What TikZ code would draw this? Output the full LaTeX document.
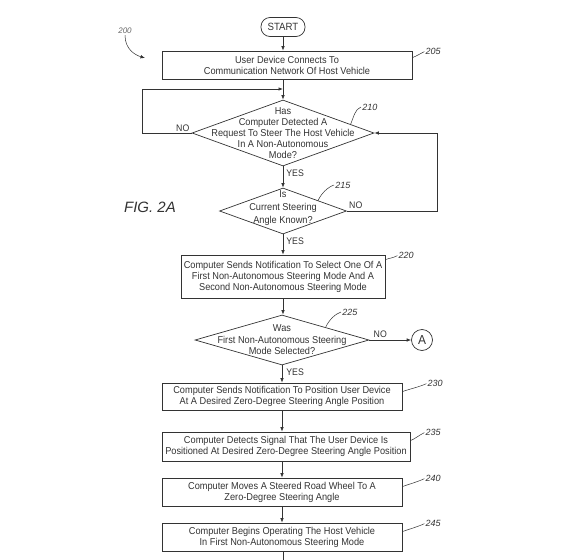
\documentclass[tikz,border=0pt]{standalone}
\usepackage{fontspec}
\setmainfont{Liberation Sans}[FakeStretch=0.92]
\newfontfamily\figfont{Liberation Sans}
\usetikzlibrary{shapes,arrows,positioning,calc,arrows.meta}

\begin{document}
\begin{tikzpicture}[x=1pt, y=1pt,
    color=black!80, line width=0.7pt,
    stepbox/.style={draw, rectangle, minimum height=28pt, inner sep=1pt, align=center, font=\fontsize{10}{11}\selectfont},
    decision/.style={draw, diamond, inner sep=0pt},
    dtext/.style={align=center, inner sep=0pt, font=\fontsize{10}{11}\selectfont},
    term/.style={draw, rectangle, rounded corners=9pt, minimum width=44pt, minimum height=19pt, font=\fontsize{10.5}{12}\selectfont},
    conn/.style={draw, circle, minimum size=21pt, inner sep=0pt, font=\fontsize{13}{14}\selectfont},
    flow/.style={-{Latex[length=4.5pt,width=3.5pt]}},
    lead/.style={line width=0.5pt},
    refnum/.style={anchor=west, inner sep=1pt, font=\figfont\itshape\fontsize{9}{10}\selectfont},
    yesno/.style={inner sep=1pt, font=\fontsize{9.5}{11}\selectfont}
]
    \useasboundingbox (0,0) rectangle (566,-560);

    % Steps
    \node [term] (start) at (283,-27) {START};
    \node [stepbox, minimum width=250pt] (b205) at (287,-65) {User Device Connects To\\Communication Network Of Host Vehicle};
    \node [decision, minimum width=182pt, minimum height=66pt] (d210) at (283,-133) {};
    \node [dtext] (t210) at (d210) {Has\\Computer Detected A\\Request To Steer The Host Vehicle\\In A Non-Autonomous\\Mode?};
    \node [decision, minimum width=127pt, minimum height=46pt] (d215) at (283,-211) {};
    \node [dtext, font=\fontsize{10}{13}\selectfont] (t215) at ([yshift=3pt]d215) {Is\\Current Steering\\Angle Known?};
    \node [stepbox, minimum width=204pt, minimum height=43pt] (b220) at (283,-276.5) {Computer Sends Notification To Select One Of A\\First Non-Autonomous Steering Mode And A\\Second Non-Autonomous Steering Mode};
    \node [decision, minimum width=174pt, minimum height=50pt] (d225) at (282,-340) {};
    \node [dtext, font=\fontsize{10}{11.5}\selectfont] (t225) at (d225) {Was\\First Non-Autonomous Steering\\Mode Selected?};
    \node [conn] (cA) at (422,-340) {A};
    \node [stepbox, minimum width=240pt, minimum height=27pt] (b230) at (282,-396.5) {Computer Sends Notification To Position User Device\\At A Desired Zero-Degree Steering Angle Position};
    \node [stepbox, minimum width=248pt, minimum height=29pt] (b235) at (286,-446.5) {Computer Detects Signal That The User Device Is\\Positioned At Desired Zero-Degree Steering Angle Position};
    \node [stepbox, minimum width=240pt] (b240) at (282,-492) {Computer Moves A Steered Road Wheel To A\\Zero-Degree Steering Angle};
    \node [stepbox, minimum width=240pt] (b245) at (282,-537) {Computer Begins Operating The Host Vehicle\\In First Non-Autonomous Steering Mode};

    \node [font=\figfont\itshape\fontsize{15}{18}\selectfont] (fig) at (150,-207) {FIG. 2A};

    % Connectors
    \draw [flow] (start.south) -- (start.south |- b205.north);
    \draw [flow] (d210.north |- b205.south) -- (d210.north);
    \draw [flow] (d210.south) -- (d215.north);
    \draw [flow] (d215.south) -- (b220.north);
    \draw [flow] (b220.south) -- (b220.south |- d225.north);
    \draw [flow] (d225.east) -- (cA.west);
    \draw [flow] (d225.south) -- (d225.south |- b230.north);
    \draw [flow] (b230.south) -- (b230.south |- b235.north);
    \draw [flow] (b230.south |- b235.south) -- (b240.north);
    \draw [flow] (b240.south) -- (b245.north);
    \coordinate (next) at (283,-560);
    \draw (b245.south -| next) -- (next);

    % Loops back to 210
    \coordinate (back) at (142,-89);
    \coordinate (ret) at (437,-211);
    \draw [flow] (d210.west) -| (back) -- (d210.north |- back);
    \draw [flow] (d215.east) -- (ret) |- (d210.east);

    % Branch labels
    \node [yesno, anchor=south east] at ([xshift=-1pt]d210.west) {NO};
    \node [yesno, anchor=north west] at ([xshift=2pt,yshift=-2pt]d210.south) {YES};
    \node [yesno, anchor=south west] at ([xshift=1pt,yshift=1pt]d215.east) {NO};
    \node [yesno, anchor=north west] at ([xshift=2pt,yshift=-2pt]d215.south) {YES};
    \node [yesno, anchor=south west] at ([xshift=3pt,yshift=1pt]d225.east) {NO};
    \node [yesno, anchor=north west] at ([xshift=3pt,yshift=-2pt]d225.south) {YES};

    % Reference numerals
    \foreach \b/\n/\dx/\dy in {b205/205/12/7, b220/220/12/5, b230/230/24/9, b235/235/14/9, b240/240/22/9, b245/245/22/9} {
        \node [refnum] (r\n) at ([xshift=\dx, yshift=-1pt]\b.north east) {\n};
        \draw [lead] ([yshift=-\dy]\b.north east) .. controls +(5,2) and +(-6,-3) .. (r\n.west);
    }
    \foreach \d/\n/\t/\lx/\ly in {d210/210/0.74/361/-107, d215/215/0.55/334/-185, d225/225/0.5/341/-312} {
        \node [refnum] (r\n) at (\lx,\ly) {\n};
        \draw [lead] ($(\d.north)!\t!(\d.east)$) .. controls +(3,7) and +(-6,-2) .. (r\n.west);
    }
    \node [refnum, anchor=center, text=black!60, font=\figfont\itshape\fontsize{8}{9}\selectfont] (r200) at (125,-31) {200};
    \coordinate (c200) at (145,-58);
    \draw [flow, lead] (r200.south) .. controls +(0,-14) and +(-10,3) .. (c200);
\end{tikzpicture}
\end{document}
